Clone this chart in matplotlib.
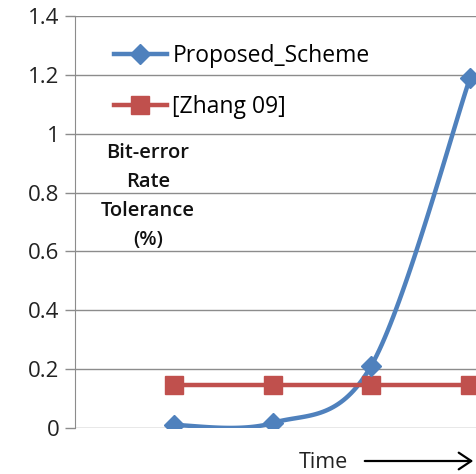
import numpy as np
import matplotlib
matplotlib.use("Agg")
import matplotlib.pyplot as plt
from matplotlib.lines import Line2D
from matplotlib.patches import FancyArrowPatch

plt.rcParams['font.family'] = ['Open Sans', 'DejaVu Sans']

x_pos = [1, 2, 3, 4]
proposed = [0.01, 0.017, 0.212, 1.19]
zhang = [0.145, 0.145, 0.145, 0.145]
series_names = ["Proposed_Scheme", "[Zhang 09]"]
yticks = [0, 0.2, 0.4, 0.6, 0.8, 1.0, 1.2, 1.4]
ytick_labels = ["0", "0.2", "0.4", "0.6", "0.8", "1", "1.2", "1.4"]

blue = "#4F81BD"
red = "#C0504D"


def smooth(xs, ys, n=40):
    """Catmull-Rom style Bezier smoothing (like Excel smoothed lines)."""
    xs = np.asarray(xs, float)
    ys = np.asarray(ys, float)
    px, py = [], []
    m = len(xs)
    for i in range(m - 1):
        x0, y0 = (xs[i - 1], ys[i - 1]) if i > 0 else (xs[i], ys[i])
        x1, y1 = xs[i], ys[i]
        x2, y2 = xs[i + 1], ys[i + 1]
        x3, y3 = (xs[i + 2], ys[i + 2]) if i + 2 < m else (xs[i + 1], ys[i + 1])
        c1x, c1y = x1 + (x2 - x0) / 6, y1 + (y2 - y0) / 6
        c2x, c2y = x2 - (x3 - x1) / 6, y2 - (y3 - y1) / 6
        t = np.linspace(0, 1, n)
        bx = (1 - t) ** 3 * x1 + 3 * (1 - t) ** 2 * t * c1x + 3 * (1 - t) * t ** 2 * c2x + t ** 3 * x2
        by = (1 - t) ** 3 * y1 + 3 * (1 - t) ** 2 * t * c1y + 3 * (1 - t) * t ** 2 * c2y + t ** 3 * y2
        px.extend(bx)
        py.extend(by)
    return np.array(px), np.array(py)


fig = plt.figure(figsize=(4.77, 4.74), dpi=100)
ax = fig.add_axes([75 / 477, (474 - 428) / 474, 1 - 75 / 477, (428 - 16) / 474])

sx, sy = smooth(x_pos, proposed)
ax.plot(sx, sy, color=blue, lw=3.2, solid_capstyle='round', zorder=3)
ax.plot(x_pos, proposed, ls='none', marker='D', ms=10, color=blue, zorder=4)
ax.plot(x_pos, zhang, color=red, lw=3.2, marker='s', ms=13, zorder=3)

ax.set_xlim(0.0, 4.07)
ax.set_ylim(0, 1.4)
ax.set_yticks(yticks)
ax.set_yticklabels(ytick_labels, fontsize=16, color='#222222')
ax.set_xticks([])
ax.grid(axis='y', color='#8C8C8C', lw=1)
ax.set_axisbelow(True)
for s in ['top', 'right', 'bottom']:
    ax.spines[s].set_visible(False)
ax.spines['left'].set_color('#8C8C8C')
ax.tick_params(axis='y', length=7, color='#8C8C8C', width=1, pad=4)

# legend
handles = [Line2D([0], [0], color=blue, lw=3.2, marker='D', ms=10),
           Line2D([0], [0], color=red, lw=3.2, marker='s', ms=13)]
ax.legend(handles, series_names, loc='upper left', bbox_to_anchor=(0.057, 0.97),
          frameon=False, fontsize=16.5, labelspacing=1.18, handlelength=2.3,
          handletextpad=0.25, borderaxespad=0.3)

# y axis title placed horizontally
fig.text(148 / 477, 1 - 143 / 474, "Bit-error\nRate\nTolerance\n(%)", ha='center', va='top',
         fontsize=14.5, fontweight='semibold', linespacing=1.6, color='#111111')
fig.text(323 / 477, 1 - 463 / 474, "Time", ha='center', va='center', fontsize=15.5, color='#222222')
fig.add_artist(FancyArrowPatch((362 / 477, 1 - 461 / 474), (476 / 477, 1 - 461 / 474),
                               transform=fig.transFigure, arrowstyle='->,head_length=9,head_width=6',
                               color='black', lw=1.6, mutation_scale=1))

fig.savefig("out.png", dpi=100)
